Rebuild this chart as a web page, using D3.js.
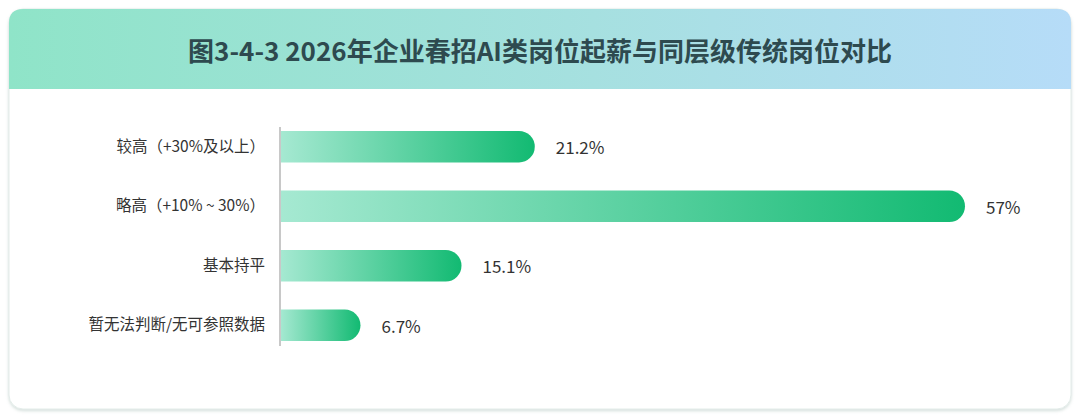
<!DOCTYPE html>
<html><head><meta charset="utf-8">
<script src="https://cdn.jsdelivr.net/npm/d3@7"></script>
<style>
html,body{margin:0;padding:0;background:#fff;}
svg{display:block;}
</style></head>
<body>
<svg id="chart" width="1080" height="416"></svg>
<script>
const title = "图3-4-3 2026年企业春招AI类岗位起薪与同层级传统岗位对比";
const categories = ["较高（+30%及以上）", "略高（+10% ~ 30%）", "基本持平", "暂无法判断/无可参照数据"];
const values = [21.2, 57, 15.1, 6.7];
const valueLabels = ["21.2%", "57%", "15.1%", "6.7%"];

const W = 1080, H = 416;
const svg = d3.select("#chart");
const defs = svg.append("defs");
const FONT = "'Noto Sans CJK SC', sans-serif";

const hg = defs.append("linearGradient").attr("id","hdr").attr("x1","0").attr("x2","1").attr("y1","0").attr("y2","0");
hg.append("stop").attr("offset","0%").attr("stop-color","#8fe4c8");
hg.append("stop").attr("offset","55%").attr("stop-color","#a6e0e0");
hg.append("stop").attr("offset","100%").attr("stop-color","#b6dcf8");

const sh = defs.append("filter").attr("id","sh").attr("x","-5%").attr("y","-5%").attr("width","110%").attr("height","115%");
sh.append("feDropShadow").attr("dx",0).attr("dy",1.5).attr("stdDeviation",1.5).attr("flood-color","#9fb8b0").attr("flood-opacity",0.45);

const cardX = 9, cardY = 9, cardW = 1062, cardH = 400, r = 14, hdrH = 80;
svg.append("rect").attr("x",cardX).attr("y",cardY).attr("width",cardW).attr("height",cardH)
  .attr("rx",r).attr("fill","#fff").attr("stroke","#e3ece9").attr("filter","url(#sh)");
const hp = `M${cardX},${cardY+hdrH} L${cardX},${cardY+r} Q${cardX},${cardY} ${cardX+r},${cardY} L${cardX+cardW-r},${cardY} Q${cardX+cardW},${cardY} ${cardX+cardW},${cardY+r} L${cardX+cardW},${cardY+hdrH} Z`;
svg.append("path").attr("d",hp).attr("fill","url(#hdr)");

svg.append("text").attr("x",W/2).attr("y",cardY+hdrH/2).attr("text-anchor","middle").attr("dominant-baseline","central")
  .attr("font-family",FONT).attr("font-weight","bold").attr("font-size",26)
  .attr("fill","#2e4a4f").text(title);

const x0 = 280;
const x = d3.scaleLinear().domain([0, 57]).range([x0, 965]);
const y = d3.scaleBand().domain(categories).range([116, 356]).paddingInner(0.47).paddingOuter(0.25);

const bh = y.bandwidth();
const g = svg.append("g");
categories.forEach((c,i)=>{
  const v = values[i];
  const x1 = x(v), yy = y(c), rr = bh/2;
  const gid = "bg"+i;
  const lg = defs.append("linearGradient").attr("id",gid).attr("gradientUnits","userSpaceOnUse")
    .attr("x1",x0).attr("x2",x1).attr("y1",0).attr("y2",0);
  lg.append("stop").attr("offset","0%").attr("stop-color","#a6e9d2");
  lg.append("stop").attr("offset","100%").attr("stop-color","#12ba72");
  const d = `M${x0},${yy} L${x1-rr},${yy} A${rr},${rr} 0 0 1 ${x1-rr},${yy+bh} L${x0},${yy+bh} Z`;
  g.append("path").attr("d",d).attr("fill",`url(#${gid})`);
  g.append("text").attr("x",x1+21).attr("y",yy+bh/2).attr("dominant-baseline","central")
    .attr("font-family",FONT).attr("font-size",17).attr("fill","#333")
    .text(valueLabels[i]);
});

const yAxis = d3.axisLeft(y).tickSize(0).tickPadding(15);
const ag = svg.append("g").attr("transform",`translate(${x0},0)`).call(yAxis);
ag.select(".domain").attr("stroke","#c8c8c8").attr("stroke-width",2).attr("d",`M0,127V346`);
ag.selectAll("text").attr("font-family",FONT).attr("font-size",15.5).attr("fill","#333");
</script>
</body></html>
